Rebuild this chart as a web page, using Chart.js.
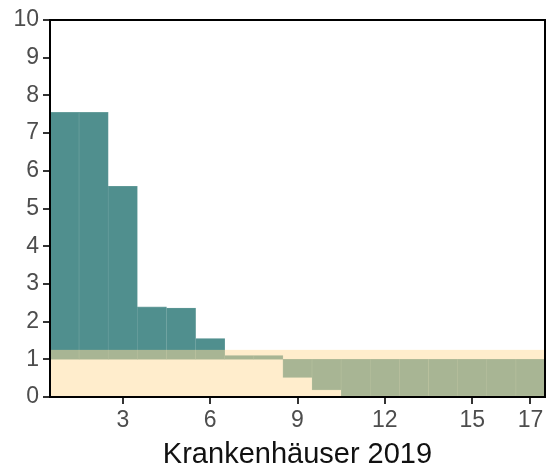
<!DOCTYPE html>
<html>
<head>
<meta charset="utf-8">
<script src="https://cdn.jsdelivr.net/npm/chart.js@4/dist/chart.umd.min.js"></script>
<style>
  html, body { margin: 0; padding: 0; background: #fff; }
  #wrap { width: 547px; height: 468px; }
</style>
</head>
<body>
<div id="wrap"><canvas id="myChart"></canvas></div>
<script>
const positions = [1, 2, 3, 4, 5, 6, 7, 8, 9, 10, 11, 12, 13, 14, 15, 16, 17];
const values = [7.55, 7.55, 5.59, 2.39, 2.36, 1.55, 1.1, 1.1, 0.52, 0.19, 0, 0, 0, 0, 0, 0, 0];
const baseline = 1;
const bandRange = [0, 1.25];
const xTicks = [3, 6, 9, 12, 15, 17];
const yTicks = [0, 1, 2, 3, 4, 5, 6, 7, 8, 9, 10];
const xTitle = 'Krankenhäuser 2019';

// beige band over the bars + black frame round the plot
const bandPlugin = {
  id: 'band',
  afterDatasetsDraw(chart) {
    const { ctx, chartArea: a, scales: { y } } = chart;
    const top = y.getPixelForValue(bandRange[1]);
    const bottom = y.getPixelForValue(bandRange[0]);
    ctx.save();
    ctx.fillStyle = 'rgba(255,219,153,0.5)';
    ctx.fillRect(a.left, top, a.right - a.left, bottom - top);
    ctx.strokeStyle = '#000';
    ctx.lineWidth = 2;
    ctx.strokeRect(a.left, a.top, a.right - a.left, a.bottom - a.top);
    ctx.restore();
  }
};

const myChart = document.getElementById('myChart').getContext('2d');

const krankChart = new Chart(myChart, {
  type: 'bar',
  data: {
    datasets: [{
      data: positions.map((p, i) => ({ x: p, y: [baseline, values[i]] })),
      backgroundColor: '#508f8e',
      borderColor: '#6fa3a1',
      borderWidth: 0.6,
      borderSkipped: false,
      categoryPercentage: 1,
      barPercentage: 1
    }]
  },
  options: {
    responsive: true,
    maintainAspectRatio: false,
    animation: false,
    layout: { padding: { left: 10, right: 2, top: 20, bottom: 0 } },
    plugins: { legend: { display: false }, tooltip: { enabled: false } },
    scales: {
      x: {
        type: 'linear',
        min: 0.5,
        max: 17.5,
        offset: false,
        afterBuildTicks: (s) => { s.ticks = xTicks.map(v => ({ value: v })); },
        afterFit: (s) => { s.height = 71; },
        grid: { offset: false, drawOnChartArea: false, tickLength: 7, color: '#333', lineWidth: 2 },
        border: { color: '#000', width: 2 },
        ticks: { color: '#4d4d4d', font: { family: 'Liberation Sans', size: 23 }, padding: 3, maxRotation: 0 },
        title: { display: true, text: xTitle, color: '#111', font: { family: 'Liberation Sans', size: 29, lineHeight: 0.9 }, padding: { top: 4, bottom: 0 } }
      },
      y: {
        min: 0,
        max: 10,
        afterBuildTicks: (s) => { s.ticks = yTicks.map(v => ({ value: v })); },
        afterFit: (s) => { s.width = 40; },
        grid: { drawOnChartArea: false, tickLength: 7, color: '#333', lineWidth: 2 },
        border: { color: '#000', width: 2 },
        ticks: { color: '#4d4d4d', font: { family: 'Liberation Sans', size: 23 }, padding: 4 }
      }
    }
  },
  plugins: [bandPlugin]
});
</script>
</body>
</html>
